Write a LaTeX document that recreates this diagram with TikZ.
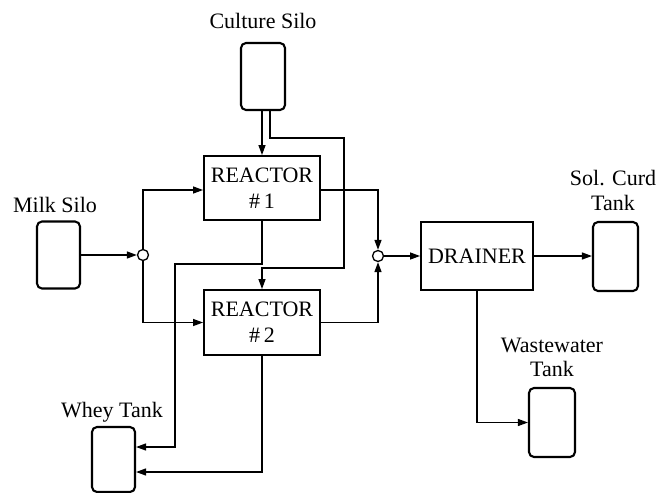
\documentclass[tikz,border=0pt]{standalone}
\usepackage{fontspec}
\setmainfont{Liberation Serif}
\usetikzlibrary{arrows.meta}
\begin{document}
\begin{tikzpicture}[x=1pt,y=-1pt,
  font=\fontsize{22}{26}\selectfont,
  tank/.style={draw,line width=2.1pt,rounded corners=5pt,inner sep=0pt},
  unitbox/.style={draw,line width=1.9pt,inner sep=0pt,align=center},
  junc/.style={circle,draw,line width=1.3pt,fill=white,minimum size=11pt,inner sep=0pt},
  arr/.style={line width=1.3pt,-{Triangle[length=10pt,width=7pt]}},
  lbl/.style={inner sep=0pt,anchor=base,align=center}]
\useasboundingbox (0,0) rectangle (657,493);
% tanks
\node[tank,minimum width=44pt,minimum height=67pt] (culture) at (263,76.5) {};
\node[tank,minimum width=43pt,minimum height=67pt] (milk) at (58.5,255) {};
\node[tank,minimum width=43pt,minimum height=65pt] (whey) at (113.5,459.5) {};
\node[tank,minimum width=45pt,minimum height=69pt] (sol) at (615.5,256.5) {};
\node[tank,minimum width=46pt,minimum height=69pt] (waste) at (552,422.5) {};
% units
\node[unitbox,minimum width=116pt,minimum height=64pt] (r1) at (262,188) {REACTOR\\\#\,1};
\node[unitbox,minimum width=116pt,minimum height=65pt] (r2) at (262,322.5) {REACTOR\\\#\,2};
\node[unitbox,minimum width=112pt,minimum height=68pt] (drainer) at (477,256) {DRAINER};
% junctions
\node[junc] (j1) at (143,255) {};
\node[junc] (j2) at (378,256) {};
% labels
\node[lbl] (lculture) at (263,28) {Culture Silo};
\node[lbl] (lmilk) at (55,212) {Milk Silo};
\node[lbl] (lwhey) at (112,417) {Whey Tank};
\node[lbl] (lsol1) at (613,185) {Sol. Curd};
\node[lbl] (lsol2) at (613,210) {Tank};
\node[lbl] (lwaste1) at (552,352) {Wastewater};
\node[lbl] (lwaste2) at (552,376) {Tank};
% connectors
\draw[arr] (r1.north |- culture.south) -- (r1.north);
\draw[arr] ([xshift=7pt]culture.south) |- ++(74,27) |- ([yshift=21pt]r2.north) -- (r2.north);
\draw[arr] (milk.east |- j1.west) -- (j1.west);
\draw[arr] (j1.north) |- ([yshift=-2pt]r1.west);
\draw[arr] (j1.south) |- (r2.west);
\draw[arr] (r1.south) |- ++(-87,43) |- ([yshift=12.5pt]whey.east);
\draw[arr] (r2.south) |- ([yshift=-12.5pt]whey.east);
\draw[arr] ([yshift=-2pt]r1.east) -| (j2.north);
\draw[arr] (r2.east) -| (j2.south);
\draw[arr] (j2.east) -- (drainer.west);
\draw[arr] (drainer.east) -- (sol.west |- drainer.east);
\draw[arr] (drainer.south) |- (waste.west);
\end{tikzpicture}
\end{document}
